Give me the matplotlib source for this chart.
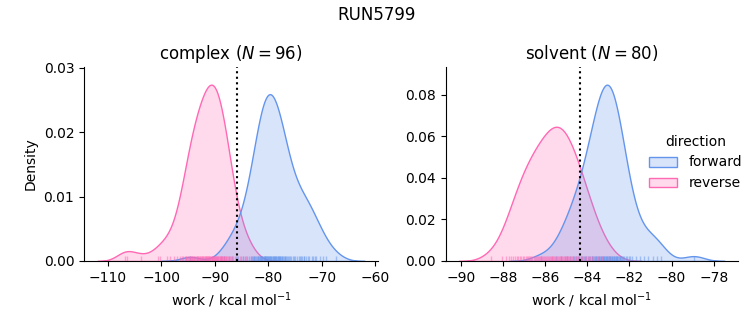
import matplotlib
matplotlib.use("Agg")
import matplotlib.pyplot as plt
import numpy as np
import pandas as pd
import seaborn as sns

run_name = "RUN5799"
phases = ["complex", "solvent"]
directions = ["forward", "reverse"]
palette = {"forward": "cornflowerblue", "reverse": "hotpink"}

complex_forward = [
    -94.6, -88.3, -87.4, -86.7, -86.1, -85.6, -85.1, -84.7, -84.3, -83.95,
    -83.6, -83.3, -83.02,
    -82.84, -82.66, -82.57, -82.39, -82.21, -82.12,
    -81.94, -81.85, -81.67, -81.58, -81.49, -81.4, -81.31, -81.22,
    -81.09, -80.95, -80.86, -80.77, -80.68, -80.64, -80.55, -80.41, -80.32, -80.28,
    -80.14, -80.05, -79.96, -79.92, -79.78, -79.69, -79.65, -79.51, -79.42,
    -79.24, -79.15, -79.06, -78.97, -78.88, -78.79, -78.7, -78.61, -78.52,
    -78.39, -78.25, -78.16, -78.07, -77.98, -77.8, -77.71, -77.58,
    -77.44, -77.35, -77.17, -77.08, -76.9, -76.81, -76.68,
    -76.54, -76.36, -76.18, -76.0, -75.82,
    -75.4, -75.2, -74.95, -74.7,
    -74.3, -74.0, -73.9, -73.6,
    -73.4, -73.3, -72.9, -72.6,
    -72.4, -71.9, -71.7,
    -71.3, -71.1, -70.4, -69.8, -69.2, -67.4,
]
complex_reverse = [
    -106.8, -106.4, -103.8, -100.6, -100.3, -98.9, -98.3, -97.7, -97.0,
    -96.4, -96.1, -95.9, -95.6,
    -95.4, -95.3, -95.1, -94.9, -94.8, -94.7, -94.55,
    -94.45, -94.3, -94.2, -94.0, -93.9, -93.8, -93.7, -93.55,
    -93.4, -93.3, -93.2, -93.05, -92.9, -92.8, -92.7, -92.55,
    -92.45, -92.35, -92.2, -92.1, -92.0, -91.9, -91.8, -91.7, -91.55,
    -91.45, -91.35, -91.3, -91.2, -91.1, -91.0, -90.9, -90.8, -90.7, -90.6, -90.55,
    -90.45, -90.4, -90.3, -90.2, -90.1, -90.0, -89.9, -89.8, -89.7, -89.6, -89.55,
    -89.45, -89.35, -89.25, -89.1, -89.0, -88.9, -88.8, -88.75, -88.65, -88.55,
    -88.45, -88.3, -88.2, -88.1, -87.95, -87.8, -87.7, -87.55,
    -87.4, -87.2, -87.0, -86.8, -86.6,
    -86.3, -85.8, -85.3, -84.7, -84.1, -83.2,
]
solvent_forward = [
    -86.2, -85.46, -85.23, -85.08, -84.94, -84.8, -84.7,
    -84.61, -84.52, -84.42, -84.37, -84.28, -84.23,
    -84.14, -84.09, -84.04, -83.95, -83.9, -83.85, -83.8, -83.76, -83.74,
    -83.68, -83.64, -83.61, -83.57, -83.53, -83.49, -83.45, -83.43, -83.4, -83.36,
    -83.33, -83.3, -83.27, -83.25,
    -83.22, -83.19, -83.16, -83.13, -83.1, -83.08, -83.05, -83.02, -82.99, -82.96,
    -82.93, -82.91, -82.88, -82.85, -82.82, -82.79,
    -82.74, -82.72, -82.69, -82.66, -82.63, -82.6, -82.57, -82.55, -82.51, -82.47,
    -82.43, -82.39, -82.36, -82.32,
    -82.24, -82.17, -82.1, -82.03, -81.96, -81.86,
    -81.7, -81.5, -81.3, -81.1, -80.9, -80.7, -80.5, -78.95,
]
solvent_reverse = [
    -88.57, -88.05, -87.86,
    -87.7, -87.6, -87.5, -87.45, -87.35, -87.28,
    -87.2, -87.12, -87.06, -86.98, -86.92, -86.86, -86.82, -86.77,
    -86.72, -86.66, -86.6, -86.55, -86.5, -86.44, -86.38, -86.32, -86.27,
    -86.23, -86.18, -86.14, -86.09, -86.04, -86.0, -85.95, -85.9, -85.86, -85.81, -85.77,
    -85.73, -85.69, -85.65, -85.61, -85.57, -85.53, -85.48, -85.44, -85.4, -85.36, -85.31, -85.27,
    -85.23, -85.19, -85.15, -85.11, -85.07, -85.03, -84.98, -84.94, -84.9, -84.86, -84.82, -84.78,
    -84.72, -84.66, -84.6, -84.55, -84.5, -84.44, -84.38, -84.32, -84.27,
    -84.2, -84.12, -84.04, -83.96, -83.88, -83.8,
    -83.65, -83.48, -83.3, -82.95,
]
free_energy = {"complex": -85.76, "solvent": -84.36}
n_pairs = {"complex": 96, "solvent": 80}

rows = []
for phase, fwd, rev in [("complex", complex_forward, complex_reverse),
                        ("solvent", solvent_forward, solvent_reverse)]:
    for direction, values in [("forward", fwd), ("reverse", rev)]:
        for v in values:
            rows.append({"phase": phase, "direction": direction, "work": v})
df = pd.DataFrame(rows)

g = sns.displot(
    data=df, x="work", hue="direction", col="phase", kind="kde",
    fill=True, rug=True, rug_kws=dict(alpha=0.5), palette=palette,
    hue_order=directions, col_order=phases,
    facet_kws=dict(sharex=False, sharey=False),
    height=3, aspect=1,
)
fig = g.figure
fig.set_size_inches(7.53, 3.25)
ax0, ax1 = g.axes.flat
W, H = 753.0, 325.0
ax0.set_position([84 / W, (H - 261) / H, 294 / W, 194 / H])
ax1.set_position([445.5 / W, (H - 261) / H, 292.5 / W, 194 / H])

for ax, phase in zip([ax0, ax1], phases):
    ax.axvline(free_energy[phase], color="k", linestyle=":", linewidth=1.5)
    ax.set_title(f"{phase} ($N = {n_pairs[phase]}$)")
    ax.set_xlabel("work / kcal mol$^{-1}$")
ax0.set_ylabel("Density")
ax1.set_ylabel("")

sns.move_legend(g, "center right", bbox_to_anchor=(1.002, 0.5), frameon=False)
fig.suptitle(run_name)
fig.savefig("out.png", dpi=100)
